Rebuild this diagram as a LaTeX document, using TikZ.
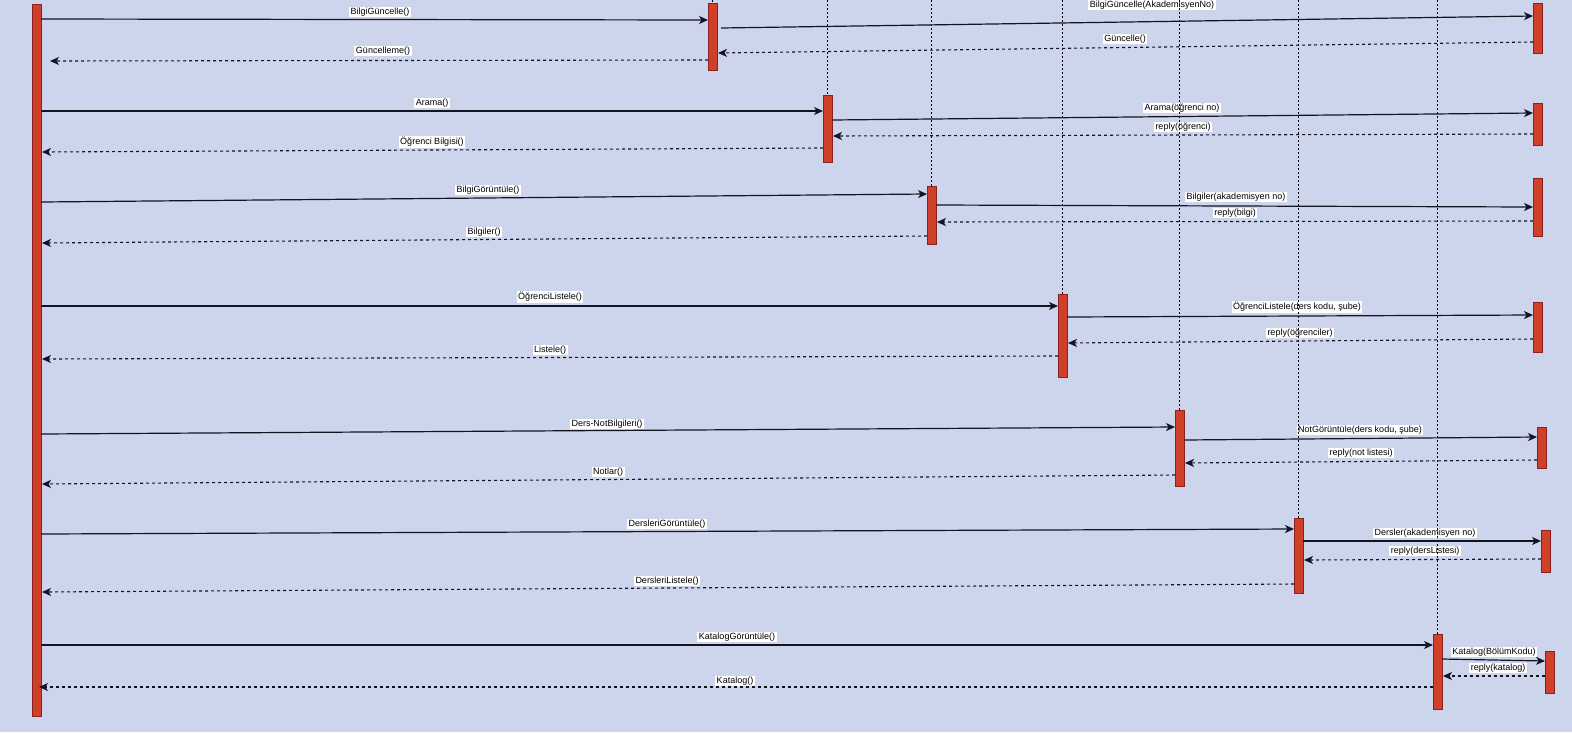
\documentclass[tikz,border=0pt]{standalone}
\usepackage{fontspec}
\setmainfont{Liberation Sans}
\usetikzlibrary{arrows.meta,calc}
\definecolor{bgc}{HTML}{CDD5EC}
\definecolor{barfill}{HTML}{D03F27}
\definecolor{bardraw}{HTML}{8A2020}
\definecolor{ink}{HTML}{141420}
\tikzset{
 bar/.style={draw=bardraw, fill=barfill, line width=0.9pt, inner sep=0pt, outer sep=0pt, minimum width=9pt, anchor=north west},
 lifeline/.style={draw=black, line width=0.8pt, dash pattern=on 2pt off 2pt},
 call/.style={draw=ink, line width=1.2pt, -{Stealth[length=9pt,width=8pt,inset=2.5pt]}},
 ret/.style={draw=ink, line width=1.1pt, dash pattern=on 3pt off 3pt, -{Stealth[length=9pt,width=8pt,inset=2.5pt]}},
 lbl/.style={fill=white, inner xsep=1.5pt, inner ysep=1pt, font=\fontsize{9}{10}\selectfont, text=black}
}
\begin{document}
\begin{tikzpicture}[x=1pt,y=-1pt]
\fill[bgc] (0,0) rectangle (1572,732);
\useasboundingbox (0,0) rectangle (1572,732);
% activation bars
\node[bar, minimum height=712pt] (L) at (32,4) {};
\node[bar, minimum height=67pt] (B1) at (708,3) {};
\node[bar, minimum height=67pt] (B2) at (823,95) {};
\node[bar, minimum height=58pt] (B3) at (927,186) {};
\node[bar, minimum height=83pt] (B4) at (1058,294) {};
\node[bar, minimum height=76pt] (B5) at (1175,410) {};
\node[bar, minimum height=75pt] (B6) at (1294,518) {};
\node[bar, minimum height=75pt] (B7) at (1433,634) {};
\node[bar, minimum height=50pt] (R1) at (1533,3) {};
\node[bar, minimum height=42pt] (R2) at (1533,103) {};
\node[bar, minimum height=58pt] (R3) at (1533,178) {};
\node[bar, minimum height=50pt] (R4) at (1533,302) {};
\node[bar, minimum height=41pt] (R5) at (1537,427) {};
\node[bar, minimum height=42pt] (R6) at (1541,530) {};
\node[bar, minimum height=42pt] (R7) at (1545,651) {};
% labels
\node[lbl] (t1) at (380,12) {BilgiGüncelle()};
\node[lbl] (t2) at (1152,5) {BilgiGüncelle(AkademisyenNo)};
\node[lbl] (t3) at (1125,39) {Güncelle()};
\node[lbl] (t4) at (383,51) {Güncelleme()};
\node[lbl] (t5) at (432,103) {Arama()};
\node[lbl] (t6) at (1182,108) {Arama(öğrenci no)};
\node[lbl] (t7) at (1183,127) {reply(öğrenci)};
\node[lbl] (t8) at (432,142) {Öğrenci Bilgisi()};
\node[lbl] (t9) at (488,190) {BilgiGörüntüle()};
\node[lbl] (t10) at (1236,197) {Bilgiler(akademisyen no)};
\node[lbl] (t11) at (1235,213) {reply(bilgi)};
\node[lbl] (t12) at (484,232) {Bilgiler()};
\node[lbl] (t13) at (550,297) {ÖğrenciListele()};
\node[lbl] (t14) at (1297,307) {ÖğrenciListele(ders kodu, şube)};
\node[lbl] (t15) at (1300,333) {reply(öğrenciler)};
\node[lbl] (t16) at (550,350) {Listele()};
\node[lbl] (t17) at (607,424) {Ders-NotBilgileri()};
\node[lbl] (t18) at (1360,430) {NotGörüntüle(ders kodu, şube)};
\node[lbl] (t19) at (1361,453) {reply(not listesi)};
\node[lbl] (t20) at (608,472) {Notlar()};
\node[lbl] (t21) at (667,524) {DersleriGörüntüle()};
\node[lbl] (t22) at (1425,533) {Dersler(akademisyen no)};
\node[lbl] (t23) at (1425,551) {reply(dersListesi)};
\node[lbl] (t24) at (667,581) {DersleriListele()};
\node[lbl] (t25) at (737,637) {KatalogGörüntüle()};
\node[lbl] (t26) at (1494,652) {Katalog(BölümKodu)};
\node[lbl] (t27) at (1498,668) {reply(katalog)};
\node[lbl] (t28) at (735,681) {Katalog()};
% lifelines
\foreach \b in {B1,B2,B3,B4,B5,B6,B7}{
  \draw[lifeline] (\b.north|-0,0) -- (\b.north);
}
% messages
\draw[call] (L.east|-0,19) -- (B1.west|-0,20);
\draw[call] ($(B1.east|-0,28)+(4,0)$) -- (R1.west|-0,16);
\draw[ret] (R1.west|-0,42) -- ($(B1.east|-0,53)+(1,0)$);
\draw[ret] (B1.west|-0,60) -- ($(L.east|-0,61)+(9,0)$);
\draw[call] (L.east|-0,111) -- (B2.west|-0,111);
\draw[call] (B2.east|-0,120) -- (R2.west|-0,113);
\draw[ret] (R2.west|-0,134) -- ($(B2.east|-0,136)+(1,0)$);
\draw[ret] (B2.west|-0,148) -- ($(L.east|-0,152)+(1,0)$);
\draw[call] (L.east|-0,202) -- (B3.west|-0,194);
\draw[call] (B3.east|-0,205) -- (R3.west|-0,207);
\draw[ret] (R3.west|-0,221) -- ($(B3.east|-0,222)+(1,0)$);
\draw[ret] (B3.west|-0,236) -- ($(L.east|-0,243)+(1,0)$);
\draw[call] (L.east|-0,306) -- (B4.west|-0,306);
\draw[call] (B4.east|-0,317) -- (R4.west|-0,315);
\draw[ret] (R4.west|-0,339) -- ($(B4.east|-0,343)+(1,0)$);
\draw[ret] (B4.west|-0,356) -- ($(L.east|-0,359)+(1,0)$);
\draw[call] (L.east|-0,434) -- (B5.west|-0,427);
\draw[call] (B5.east|-0,440) -- (R5.west|-0,437);
\draw[ret] (R5.west|-0,460) -- ($(B5.east|-0,463)+(1,0)$);
\draw[ret] (B5.west|-0,475) -- ($(L.east|-0,484)+(1,0)$);
\draw[call] (L.east|-0,534) -- (B6.west|-0,529);
\draw[call] (B6.east|-0,541) -- (R6.west|-0,541);
\draw[ret] (R6.west|-0,559) -- ($(B6.east|-0,560)+(1,0)$);
\draw[ret] (B6.west|-0,584) -- ($(L.east|-0,592)+(1,0)$);
\draw[call] (L.east|-0,645) -- (B7.west|-0,645);
\draw[call] (B7.east|-0,659) -- (R7.west|-0,661);
\draw[ret] (R7.west|-0,676) -- ($(B7.east|-0,676)+(1,0)$);
\draw[ret] (B7.west|-0,687) -- ($(L.east|-0,687)+(-2,0)$);
\end{tikzpicture}
\end{document}
